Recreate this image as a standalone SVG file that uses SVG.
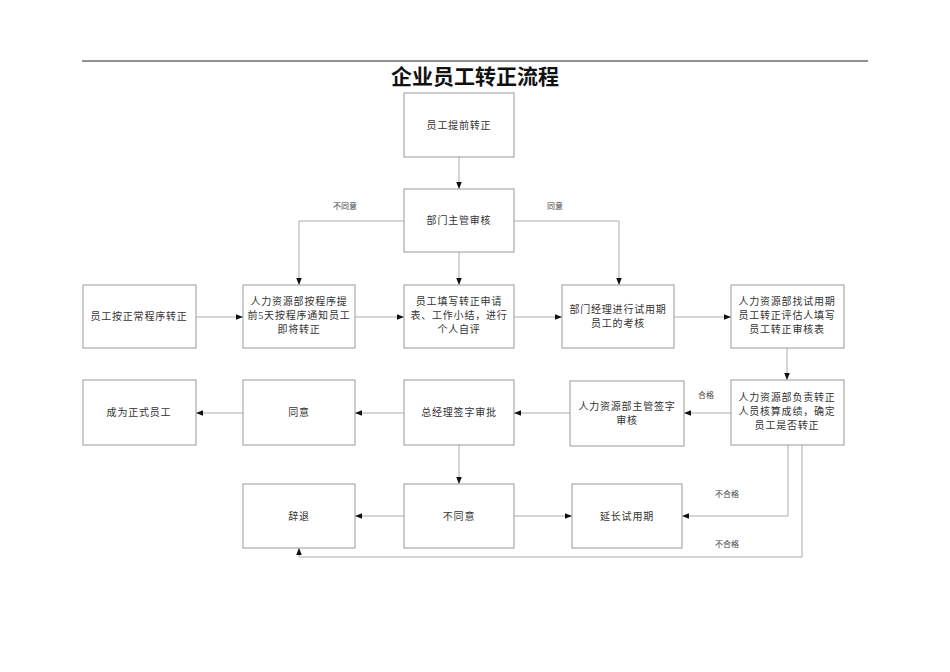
<svg xmlns="http://www.w3.org/2000/svg" width="950" height="672" viewBox="0 0 950 672">
<style>
.b{fill:#fff;stroke:#999;stroke-width:1}
.t{font-family:"Liberation Serif","Noto Sans CJK SC",serif;font-size:10px;fill:#333;text-anchor:middle;letter-spacing:0.8px}
.l{font-family:"Liberation Serif","Noto Sans CJK SC",serif;font-size:8px;fill:#444;text-anchor:middle}
.c{fill:none;stroke:#aaa;stroke-width:1;marker-end:url(#a)}
</style>
<defs><marker id="a" viewBox="0 0 10 10" refX="10" refY="5" markerWidth="7" markerHeight="7" orient="auto"><path d="M0,1L10,5L0,9z" fill="#111"/></marker></defs>
<rect width="950" height="672" fill="#fff"/>
<line x1="82" y1="61" x2="868" y2="61" stroke="#222" stroke-width="1"/>
<text x="475" y="84" font-family="Liberation Serif,Noto Sans CJK SC,serif" font-size="21" font-weight="bold" text-anchor="middle" fill="#111">企业员工转正流程</text>
<g id="connectors">
<path class="c" d="M459,157V189"/>
<path class="c" d="M404,221H299V285"/>
<path class="c" d="M514,221H619V285"/>
<path class="c" d="M459,252V285"/>
<path class="c" d="M196,317H243"/>
<path class="c" d="M355,317H404"/>
<path class="c" d="M514,317H562"/>
<path class="c" d="M674,317H731"/>
<path class="c" d="M787,348V380"/>
<path class="c" d="M731,413H684"/>
<path class="c" d="M570,413H514"/>
<path class="c" d="M404,413H355"/>
<path class="c" d="M243,413H196"/>
<path class="c" d="M459,445V484"/>
<path class="c" d="M404,516H355"/>
<path class="c" d="M514,516H572"/>
<path class="c" d="M788,445V516H682"/>
<path class="c" d="M802,445V557H299V548"/>
<text class="l" x="345" y="209">不同意</text>
<text class="l" x="555" y="209">同意</text>
<text class="l" x="706" y="398">合格</text>
<text class="l" x="727" y="497">不合格</text>
<text class="l" x="727" y="547">不合格</text>
</g>
<g id="n1"><rect class="b" x="404" y="93" width="110" height="64"/><text class="t" x="459" y="129">员工提前转正</text></g>
<g id="n2"><rect class="b" x="404" y="189" width="110" height="63"/><text class="t" x="459" y="224">部门主管审核</text></g>
<g id="n3"><rect class="b" x="83" y="285" width="113" height="63"/><text class="t" x="139" y="320">员工按正常程序转正</text></g>
<g id="n4"><rect class="b" x="243" y="285" width="112" height="63"/><text class="t" x="299" y="305">人力资源部按程序提</text><text class="t" x="299" y="319">前5天按程序通知员工</text><text class="t" x="299" y="333">即将转正</text></g>
<g id="n5"><rect class="b" x="404" y="285" width="110" height="63"/><text class="t" x="459" y="305">员工填写转正申请</text><text class="t" x="459" y="319">表、工作小结，进行</text><text class="t" x="459" y="333">个人自评</text></g>
<g id="n6"><rect class="b" x="562" y="285" width="112" height="63"/><text class="t" x="618" y="313">部门经理进行试用期</text><text class="t" x="618" y="327">员工的考核</text></g>
<g id="n7"><rect class="b" x="731" y="285" width="113" height="63"/><text class="t" x="787" y="305">人力资源部找试用期</text><text class="t" x="787" y="319">员工转正评估人填写</text><text class="t" x="787" y="333">员工转正审核表</text></g>
<g id="n8"><rect class="b" x="83" y="380" width="113" height="65"/><text class="t" x="139" y="416">成为正式员工</text></g>
<g id="n9"><rect class="b" x="243" y="380" width="112" height="65"/><text class="t" x="299" y="416">同意</text></g>
<g id="n10"><rect class="b" x="404" y="380" width="110" height="65"/><text class="t" x="459" y="416">总经理签字审批</text></g>
<g id="n11"><rect class="b" x="570" y="381" width="114" height="65"/><text class="t" x="627" y="410">人力资源部主管签字</text><text class="t" x="627" y="424">审核</text></g>
<g id="n12"><rect class="b" x="731" y="380" width="113" height="65"/><text class="t" x="787" y="401">人力资源部负责转正</text><text class="t" x="787" y="415">人员核算成绩，确定</text><text class="t" x="787" y="429">员工是否转正</text></g>
<g id="n13"><rect class="b" x="243" y="484" width="112" height="64"/><text class="t" x="299" y="520">辞退</text></g>
<g id="n14"><rect class="b" x="404" y="484" width="110" height="64"/><text class="t" x="459" y="520">不同意</text></g>
<g id="n15"><rect class="b" x="572" y="484" width="110" height="64"/><text class="t" x="627" y="520">延长试用期</text></g>
</svg>
